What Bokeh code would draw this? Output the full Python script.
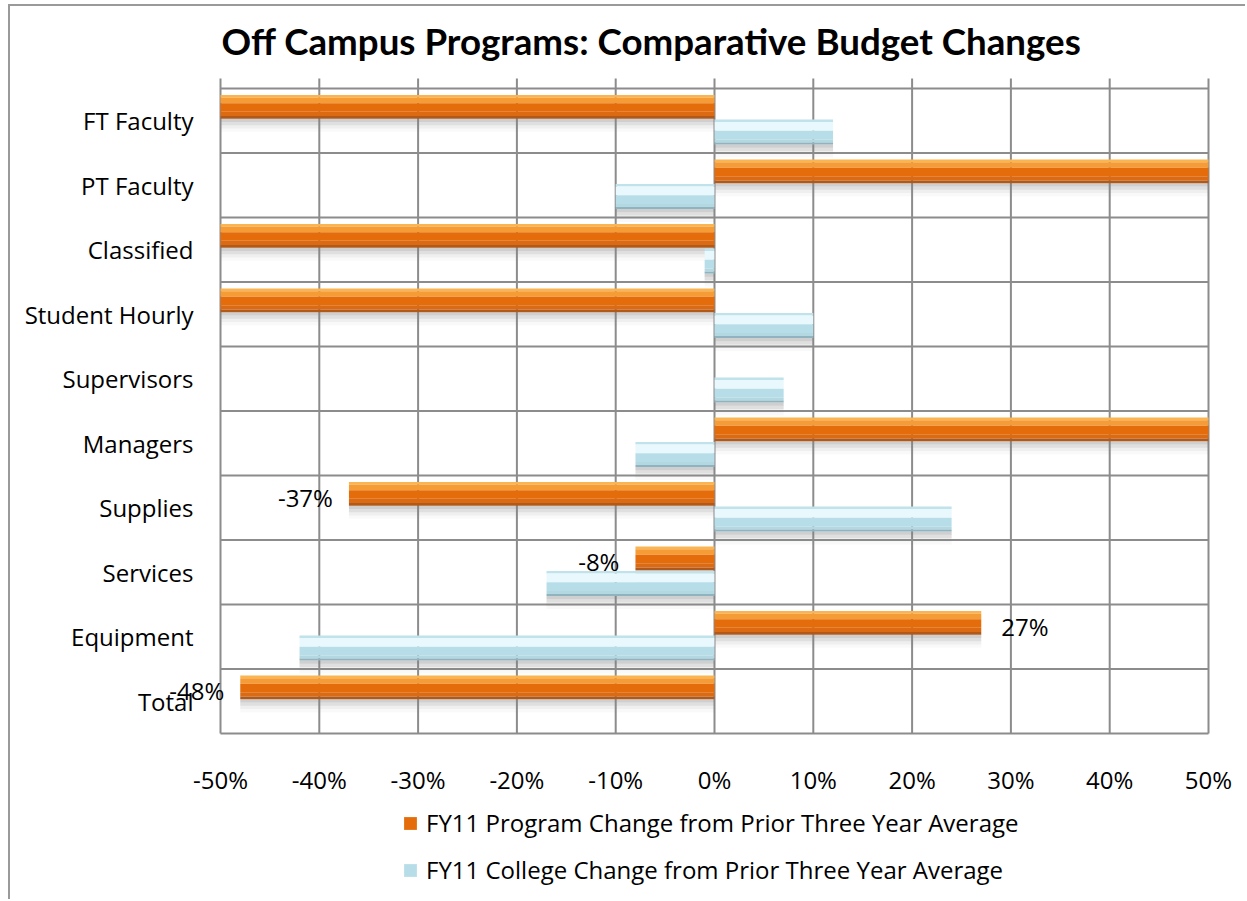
import math
from bokeh.plotting import figure
from bokeh.models import (ColumnDataSource, FixedTicker, NumeralTickFormatter, Legend,
                          LegendItem, LabelSet, Label, Range1d)
from bokeh.core.properties import value
from bokeh.transform import dodge
from bokeh.embed import file_html
from bokeh.resources import INLINE

NAN = float("nan")

# ---------------- data ----------------
categories = ["FT Faculty", "PT Faculty", "Classified", "Student Hourly", "Supervisors",
              "Managers", "Supplies", "Services", "Equipment", "Total"]
program_change = [-1.00, 1.00, -1.00, -1.00, NAN, 1.00, -0.37, -0.08, 0.27, -0.48]
college_change = [0.12, -0.10, -0.01, 0.10, 0.07, -0.08, 0.24, -0.17, -0.42, NAN]
x_ticks = [-0.5, -0.4, -0.3, -0.2, -0.1, 0.0, 0.1, 0.2, 0.3, 0.4, 0.5]
series_names = ["FY11 Program Change from Prior Three Year Average",
                "FY11 College Change from Prior Three Year Average"]
title_text = "Off Campus Programs: Comparative Budget Changes"

FONT = "Open Sans"
FS = "24px"
n = len(categories)
centers = [n - i - 0.5 for i in range(n)]
x_lo, x_hi = x_ticks[0], x_ticks[-1]

# ---------------- layout (pixels, canvas coordinates from top-left) ----------------
W, H = 1237, 895                   # canvas size
PLOT_L, PLOT_R = 210, 1198         # plot area (x = -50% .. 50%)
PLOT_T, PLOT_B = 82, 727           # top grid line .. bottom grid line
VTOP = 72                          # where the vertical grid lines start
TITLE_BASE = 34                    # title baseline
px_per_x = (PLOT_R - PLOT_L) / (x_hi - x_lo)
px_per_y = (PLOT_B - PLOT_T) / n
xr = Range1d(x_lo - PLOT_L / px_per_x, x_hi + (W - PLOT_R) / px_per_x)
yr = Range1d(-(H - PLOT_B) / px_per_y, n + PLOT_T / px_per_y)
v_top = n + (PLOT_T - VTOP) / px_per_y

src = ColumnDataSource(dict(cat=categories, y=centers, prog=program_change,
                            coll=college_change, zero=[0.0] * n))

p = figure(width=W, height=H, output_backend="svg", toolbar_location=None,
           x_range=xr, y_range=yr,
           min_border_left=0, min_border_right=0, min_border_top=0,
           min_border_bottom=0)
p.styles = {"border-left": "2px solid #9a9a9a", "border-top": "2px solid #9a9a9a",
            "margin-left": "8px", "margin-top": "4px"}
p.outline_line_color = None
p.background_fill_color = "white"
p.xgrid.visible = False
p.ygrid.visible = False

# title
p.add_layout(Label(x=PLOT_L + 1, y=H - TITLE_BASE, x_units="screen", y_units="screen",
                   text=title_text, text_font="Lato", text_font_style="bold",
                   text_font_size="36.7px", text_color="black", text_align="left",
                   text_baseline="alphabetic"))

# grid lines of the plot area
GRID = "#8c8c8c"
p.segment(x0=x_ticks, x1=x_ticks, y0=[0] * len(x_ticks), y1=[v_top] * len(x_ticks),
          line_color=GRID, line_width=2)
hy = list(range(n + 1))
p.segment(x0=[x_lo] * len(hy), x1=[x_hi] * len(hy), y0=hy, y1=hy,
          line_color=GRID, line_width=2)

# axes
p.xaxis.ticker = FixedTicker(ticks=x_ticks)
p.xaxis.formatter = NumeralTickFormatter(format="0%")
p.xaxis.fixed_location = 0
p.yaxis.ticker = FixedTicker(ticks=centers)
p.yaxis.major_label_overrides = {c: name for c, name in zip(centers, categories)}
p.yaxis.fixed_location = x_lo
for ax in (p.xaxis, p.yaxis):
    ax.axis_line_color = None
    ax.major_tick_line_color = None
    ax.minor_tick_line_color = None
    ax.major_tick_out = 0
    ax.major_tick_in = 0
    ax.major_label_text_font = FONT
    ax.major_label_text_font_size = FS
    ax.major_label_text_color = "black"
p.xaxis.major_label_standoff = 29
p.yaxis.major_label_standoff = 27

# bars with layered shading
ORANGE_H, ORANGE_OFF = 0.37, 0.215
BLUE_H, BLUE_OFF = 0.39, -0.175
orange_layers = [(0.00, 0.12, "#fab552"), (0.12, 0.35, "#f59c37"), (0.35, 0.70, "#ea7818"),
                 (0.70, 0.88, "#db6a12"), (0.88, 1.00, "#b0591a")]
blue_layers = [(0.00, 0.10, "#bfe2eb"), (0.10, 0.45, "#e8f8fc"), (0.45, 0.80, "#cdebf2"),
               (0.80, 0.92, "#b3d8e2"), (0.92, 1.00, "#8fb4bf")]
shadow = [(0.0, 0.05, 0.38), (0.05, 0.10, 0.25), (0.10, 0.15, 0.13), (0.15, 0.20, 0.05)]


def draw(field, off, h, layers):
    for f0, f1, a in shadow:
        cy = off - h / 2 - (f0 + f1) / 2
        p.hbar(y=dodge("y", cy), height=(f1 - f0), left="zero", right=field, source=src,
               fill_color="#808080", fill_alpha=a, line_color=None)
    main = None
    for f0, f1, col in layers:
        cy = off + h * (0.5 - (f0 + f1) / 2)
        r = p.hbar(y=dodge("y", cy), height=h * (f1 - f0), left="zero", right=field,
                   source=src, fill_color=col, line_color=None)
        if f0 in (0.35, 0.45):
            main = r
    return main


# hide parts of the bars beyond the plot area (values past +/-50%)
def clip(vals):
    return [v if math.isnan(v) else max(x_lo, min(x_hi, v)) for v in vals]


src.data["prog_c"] = clip(program_change)
src.data["coll_c"] = clip(college_change)
r_prog = draw("prog_c", ORANGE_OFF, ORANGE_H, orange_layers)
r_coll = draw("coll_c", BLUE_OFF, BLUE_H, blue_layers)
r_prog.glyph.fill_color = "#e46c0a"
r_coll.glyph.fill_color = "#b7dee8"

# data labels for visible program values
neg = dict(x=[], y=[], t=[])
pos = dict(x=[], y=[], t=[])
for v, c in zip(program_change, centers):
    if math.isnan(v) or abs(v) > x_hi:
        continue
    d = neg if v < 0 else pos
    d["x"].append(v)
    d["y"].append(c + ORANGE_OFF - 0.05)
    d["t"].append(f"{v * 100:.0f}%")
p.add_layout(LabelSet(x="x", y="y", text="t", source=ColumnDataSource(neg), x_offset=-16,
                      text_align="right", text_baseline="middle", text_font=value(FONT),
                      text_font_size=FS, text_color="black"))
p.add_layout(LabelSet(x="x", y="y", text="t", source=ColumnDataSource(pos), x_offset=20,
                      text_align="left", text_baseline="middle", text_font=value(FONT),
                      text_font_size=FS, text_color="black"))

legend = Legend(items=[LegendItem(label=series_names[0], renderers=[r_prog]),
                       LegendItem(label=series_names[1], renderers=[r_coll])],
                orientation="vertical", location=(392, 15))
legend.label_text_font = FONT
legend.label_text_font_size = FS
legend.label_text_color = "black"
legend.glyph_width = 16
legend.glyph_height = 16
legend.label_height = 30
legend.label_standoff = 8
legend.spacing = 14
legend.padding = 0
legend.margin = 0
legend.border_line_color = None
legend.background_fill_alpha = 0
p.add_layout(legend, "center")

open("out.html", "w").write(file_html(p, INLINE))
